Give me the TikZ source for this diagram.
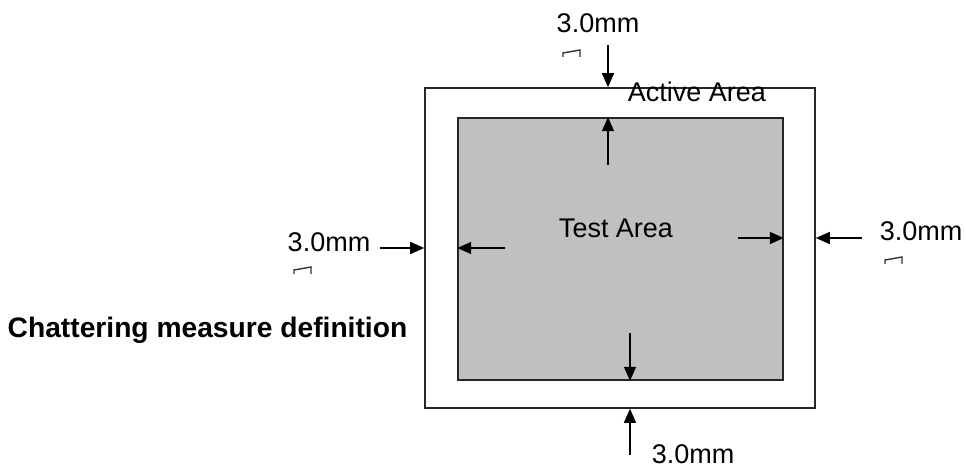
\documentclass[tikz,border=0pt]{standalone}
\usepackage{fontspec}
\setmainfont{Liberation Sans}
\usetikzlibrary{arrows.meta}
\definecolor{testgray}{HTML}{C0C0C0}
\tikzset{
  x=1pt, y=-1pt,
  box/.style={draw=black!85, line width=1.6pt, inner sep=0pt},
  arr/.style={line width=1.5pt, -{Triangle[length=14pt,width=12pt]}},
  lbl/.style={inner sep=0pt, font=\fontsize{27}{30}\selectfont},
  tick/.style={line width=1.4pt, black!80},
}
\begin{document}
\begin{tikzpicture}
\useasboundingbox (0,0) rectangle (966,470);
\node[box, minimum width=390pt, minimum height=320pt] (outer) at (620,248) {};
\node[box, fill=testgray, minimum width=325pt, minimum height=262pt] (inner) at (620.5,249) {};
\node[lbl, anchor=center] (active) at (697,92) {Active Area};
\node[lbl, anchor=center] (test) at (616,228) {Test Area};
\node[lbl, font=\bfseries\fontsize{28.2}{31}\selectfont, anchor=center] (title) at (207.5,330) {Chattering measure definition};
\node[lbl] (ltop) at (598,23) {3.0mm};
\node[lbl] (lleft) at (329,242) {3.0mm};
\node[lbl] (lright) at (921,231) {3.0mm};
\node[lbl] (lbot) at (693,454) {3.0mm};
% arrow coordinates
\coordinate (t0) at (608,45);
\coordinate (t1) at (608,165);
\coordinate (l0) at (380,248);
\coordinate (l1) at (505,248);
\coordinate (r0) at (738,238);
\coordinate (r1) at (862,238);
\coordinate (b0) at (630,333);
\coordinate (b1) at (630,455);
\draw[arr] (t0) -- (t0 |- outer.north);
\draw[arr] (t1) -- (t1 |- inner.north);
\draw[arr] (l0) -- (l0 -| outer.west);
\draw[arr] (l1) -- (l1 -| inner.west);
\draw[arr] (r0) -- (r0 -| inner.east);
\draw[arr] (r1) -- (r1 -| outer.east);
\draw[arr] (b0) -- (b0 |- inner.south);
\draw[arr] (b1) -- (b1 |- outer.south);
% small marks
\draw[tick] (563,57) -- (563,53) -- (580,50) -- (580,57);
\draw[tick] (294,274) -- (294,270) -- (311,267) -- (311,274);
\draw[tick] (885,264) -- (885,260) -- (902,257) -- (902,264);
\end{tikzpicture}
\end{document}
